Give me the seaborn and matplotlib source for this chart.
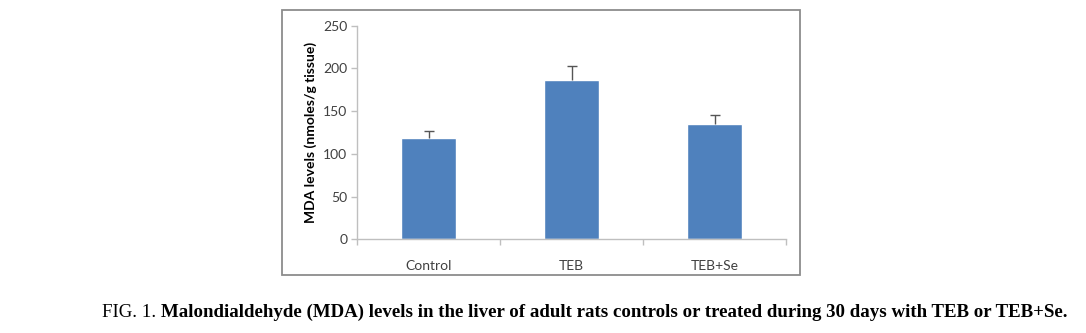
import matplotlib
matplotlib.use("Agg")
import matplotlib.pyplot as plt
from matplotlib.patches import Rectangle
import seaborn as sns
import pandas as pd

# Data
categories = ["Control", "TEB", "TEB+Se"]
mda_mean = [119, 186.5, 135.5]
mda_err = [7.5, 16, 10.5]
yticks = [0, 50, 100, 150, 200, 250]

sns.set_theme(style="white")
plt.rcParams["font.family"] = ["Lato", "DejaVu Sans"]

W, H = 1086, 333
fig = plt.figure(figsize=(W / 100, H / 100), dpi=100)
fig.patch.set_facecolor("white")

# Chart frame
fig.patches.append(Rectangle((282 / W, 1 - 275 / H), (800 - 282) / W, (275 - 10) / H,
                             transform=fig.transFigure, fill=False,
                             edgecolor="#8c8c8c", linewidth=1.3))

ax = fig.add_axes([357 / W, 1 - 239.3 / H, (786 - 357) / W, (239.3 - 25.7) / H])
df = pd.DataFrame({"group": categories, "mda": mda_mean})
sns.barplot(data=df, x="group", y="mda", color="#4f81bd", saturation=1,
            width=0.39, errorbar=None, ax=ax)
_, caps, _ = ax.errorbar(range(len(categories)), mda_mean, yerr=[[0] * 3, mda_err],
                         fmt="none", ecolor="#555555", elinewidth=1,
                         capsize=3.5, capthick=1)
caps[0].set_visible(False)  # upper-only error bars

ax.set_xlim(-0.5, 2.5)
ax.set_ylim(0, 250)
ax.set_yticks(yticks)
ax.set_xlabel("")
ax.set_ylabel("MDA levels (nmoles/g tissue)", fontsize=10, fontweight="bold",
              color="black", labelpad=4)

for side in ["top", "right"]:
    ax.spines[side].set_visible(False)
for side in ["left", "bottom"]:
    ax.spines[side].set_color("#bfbfbf")
    ax.spines[side].set_linewidth(1)

ax.tick_params(axis="y", which="major", left=True, length=4, width=1, color="#bfbfbf",
               labelsize=10, labelcolor="#404040", pad=3)
ax.tick_params(axis="x", which="major", bottom=False, labelsize=10,
               labelcolor="#404040", pad=9)
ax.set_xticks([-0.5, 0.5, 1.5, 2.5], minor=True)
ax.tick_params(axis="x", which="minor", bottom=True, length=4, width=1, color="#bfbfbf")

# Caption
t1 = fig.text(101.7 / W, 1 - 316.7 / H, "FIG. 1. ", fontsize=13.6,
              family="Liberation Serif", color="black", va="baseline")
ax.annotate("Malondialdehyde (MDA) levels in the liver of adult rats controls or treated during 30 days with TEB or TEB+Se.",
            xy=(1, 0), xycoords=t1, xytext=(0, 0), textcoords="offset points",
            fontsize=13.6, family="Liberation Serif", fontweight="bold",
            color="black", va="bottom", ha="left", annotation_clip=False)

fig.savefig("out.png", dpi=100, facecolor="white")
